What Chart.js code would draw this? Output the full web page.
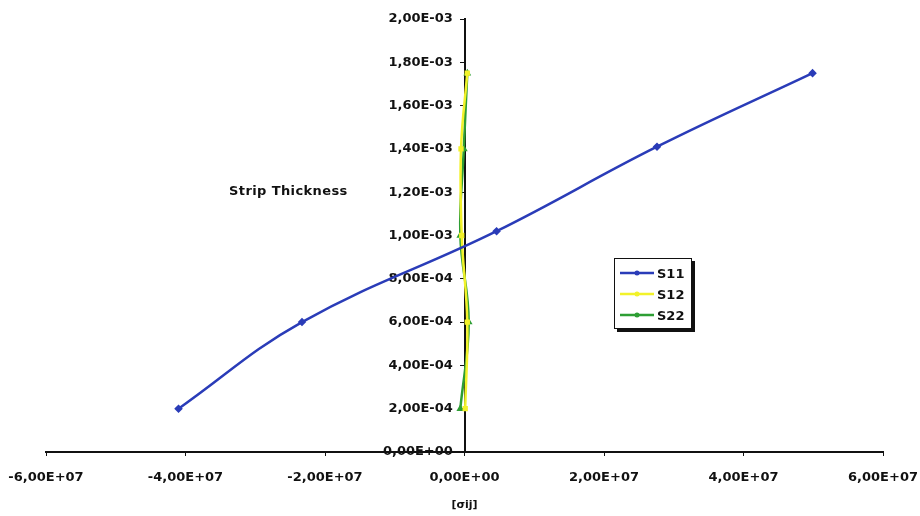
<!DOCTYPE html>
<html>
<head>
<meta charset="utf-8">
<script src="https://cdn.jsdelivr.net/npm/chart.js@4/dist/chart.umd.min.js"></script>
<style>
  body { margin: 0; background: #fff; }
  #wrap { position: relative; width: 920px; height: 516px; }
  #yname { position: absolute; left: 229px; top: 183px; font: bold 13px "DejaVu Sans"; letter-spacing: 0.4px; color: #111; }
  #legend {
    position: absolute; left: 614px; top: 258px; width: 76px; height: 69px;
    border: 1px solid #111; background: #fff; box-shadow: 3px 3px 0 #111;
    font: bold 13px "DejaVu Sans"; color: #111;
  }
  .row { position: absolute; left: 5px; height: 16px; display: flex; align-items: center; }
  .row canvas { margin-right: 3px; }
</style>
</head>
<body>
<div id="wrap">
  <canvas id="c" width="920" height="516"></canvas>
  <div id="yname">Strip Thickness</div>
  <div id="legend"></div>
</div>
<script>
// --- datos ---
const seriesNames = ['S11', 'S12', 'S22'];
const seriesColors = ['#2a3cb8', '#f2f22a', '#2e9e34'];
const seriesMarkers = ['rectRot', 'rect', 'triangle'];

const s11X = [-4.1e7, -2.33e7, 4.6e6, 2.76e7, 4.99e7];
const s11Y = [2.0e-4, 6.0e-4, 1.02e-3, 1.41e-3, 1.75e-3];

const s12X = [0.1e6, 0.4e6, -0.4e6, -0.5e6, 0.4e6];
const s12Y = [2.0e-4, 6.0e-4, 1.0e-3, 1.4e-3, 1.75e-3];

const s22X = [-0.6e6, 0.6e6, -0.6e6, -0.1e6, 0.4e6];
const s22Y = [2.0e-4, 6.0e-4, 1.0e-3, 1.4e-3, 1.75e-3];

const xTicks = [-6e7, -4e7, -2e7, 0, 2e7, 4e7, 6e7];
const yTicks = [0, 2e-4, 4e-4, 6e-4, 8e-4, 1e-3, 1.2e-3, 1.4e-3, 1.6e-3, 1.8e-3, 2e-3];

// formato tipo Excel: 2,00E-03
function fmt(v) {
  v = Number(Number(v).toPrecision(3));
  if (v === 0) return '0,00E+00';
  let exp = Math.floor(Math.log10(Math.abs(v)));
  let mant = v / Math.pow(10, exp);
  if (Math.abs(mant) >= 9.995) { mant /= 10; exp += 1; }
  const e = Math.abs(exp);
  return mant.toFixed(2).replace('.', ',') + 'E' + (exp < 0 ? '-' : '+') + (e < 10 ? '0' + e : e);
}

function pts(xs, ys) {
  return xs.map((x, i) => ({ x: x, y: ys[i] }));
}

const allSeries = [pts(s11X, s11Y), pts(s12X, s12Y), pts(s22X, s22Y)];

const datasets = allSeries.map((d, i) => ({
  label: seriesNames[i],
  data: d,
  showLine: true,
  borderColor: seriesColors[i],
  backgroundColor: seriesColors[i],
  borderWidth: 2.5,
  pointStyle: seriesMarkers[i],
  pointRadius: i === 0 ? 2.5 : 2,
  tension: 0.4
}));

const tickFont = { family: 'DejaVu Sans', size: 13, weight: 'bold' };

new Chart(document.getElementById('c').getContext('2d'), {
  type: 'scatter',
  data: { datasets: datasets },
  options: {
    responsive: false,
    animation: false,
    devicePixelRatio: 1,
    layout: { padding: { left: 46, right: 37, top: 19, bottom: 0 } },
    plugins: { legend: { display: false }, tooltip: { enabled: false } },
    scales: {
      x: {
        type: 'linear',
        min: xTicks[0],
        max: xTicks[xTicks.length - 1],
        afterBuildTicks: s => { s.ticks = xTicks.map(v => ({ value: v })); },
        afterFit: s => { s.height = 64; s.paddingLeft = 0; s.paddingRight = 0; },
        border: { color: '#111', width: 2 },
        grid: { drawOnChartArea: false, color: '#111', tickLength: 4 },
        ticks: { color: '#111', font: tickFont, padding: 14, maxRotation: 0, callback: v => fmt(v) },
        title: { display: true, text: '[σij]', color: '#111', font: { family: 'DejaVu Sans', size: 11, weight: 'bold' }, padding: { top: 12 } }
      },
      y: {
        type: 'linear',
        position: { x: 0 },
        min: 0,
        max: 2e-3,
        afterBuildTicks: s => { s.ticks = yTicks.map(v => ({ value: v })); },
        afterFit: s => { s.width = 0; s.paddingTop = 0; s.paddingBottom = 0; },
        border: { color: '#111', width: 2 },
        grid: { drawOnChartArea: false, color: '#111', tickLength: 4 },
        // el eje centrado no respeta padding: se separa con espacios
        ticks: { color: '#111', font: tickFont, padding: 8, callback: v => fmt(v) + '  \u2009' }
      }
    }
  }
});

// leyenda con recuadro, como la de Excel
const legend = document.getElementById('legend');
seriesNames.forEach((name, i) => {
  const row = document.createElement('div');
  row.className = 'row';
  row.style.top = (6 + i * 21) + 'px';
  const cv = document.createElement('canvas');
  cv.width = 34; cv.height = 10;
  const g = cv.getContext('2d');
  g.strokeStyle = seriesColors[i]; g.lineWidth = 2.5;
  g.beginPath(); g.moveTo(0, 5); g.lineTo(34, 5); g.stroke();
  g.fillStyle = seriesColors[i];
  g.beginPath(); g.arc(17, 5, 2.5, 0, Math.PI * 2); g.fill();
  row.appendChild(cv);
  const t = document.createElement('span');
  t.textContent = name;
  row.appendChild(t);
  legend.appendChild(row);
});
</script>
</body>
</html>
